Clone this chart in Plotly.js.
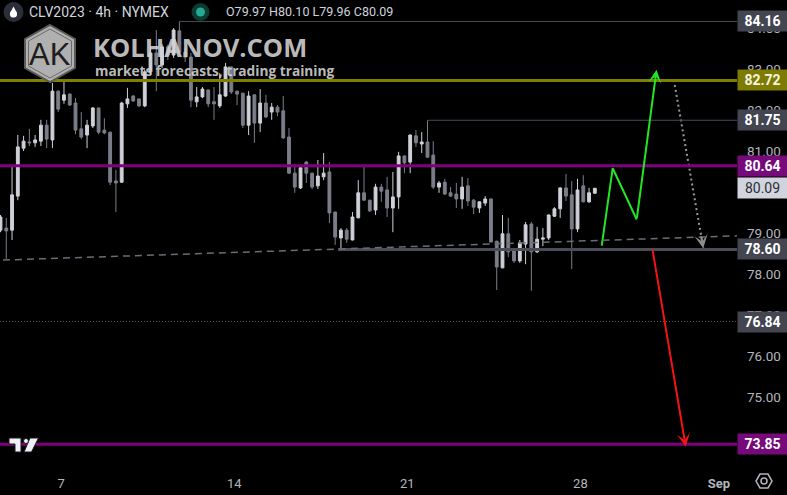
<!DOCTYPE html>
<html><head><meta charset="utf-8">
<script src="https://cdn.plot.ly/plotly-3.0.1.min.js"></script>
<style>html,body{margin:0;padding:0;background:#000;}#chart{width:787px;height:495px;}</style>
</head><body><div id="chart"></div>
<script>
// ---- DATA (CLV2023, 4h bars) ----
const openP  = [79.07,79.12,79.07,79.90,81.07,81.22,81.20,81.24,81.63,81.27,
                82.46,82.24,82.39,82.17,81.54,81.39,81.61,82.05,81.51,81.46,
                80.27,80.24,82.15,82.34,82.27,82.10,82.93,83.39,83.10,83.54,
                83.34,83.93,83.41,83.29,82.20,82.32,82.49,82.20,82.10,82.34,
                83.05,82.46,82.41,81.63,82.37,81.68,82.17,81.95,82.07,81.98,
                81.34,80.46,80.10,80.73,80.46,80.15,80.37,80.49,79.51,78.88,
                79.07,78.83,79.37,79.98,79.80,79.56,80.12,80.05,79.61,79.88,
                80.88,80.73,81.37,81.17,81.22,80.90,80.12,80.24,79.98,79.95,
                79.83,80.15,79.80,79.61,79.73,79.83,78.80,78.15,78.98,78.56,
                78.32,78.73,79.22,78.54,78.85,78.88,79.41,79.59,80.10,79.93,
                79.10,80.15,79.76,79.97];
const highP  = [79.44,79.37,80.66,81.39,81.37,81.54,81.39,81.76,81.76,82.66,
                82.48,82.73,82.40,82.29,81.95,81.76,82.07,82.06,81.80,81.47,
                80.54,82.20,82.54,82.37,82.28,82.98,83.54,83.95,83.61,83.59,
                84.00,84.16,83.51,83.39,82.56,82.56,82.50,82.56,82.90,83.15,
                83.06,82.47,82.42,82.46,82.38,82.51,82.37,82.17,82.12,82.34,
                81.56,80.68,80.66,80.76,80.47,80.78,80.95,80.73,79.52,79.12,
                79.12,79.51,80.29,80.61,79.81,80.20,80.20,80.37,80.49,80.98,
                80.89,81.40,81.51,81.46,81.75,81.24,80.27,80.32,80.12,80.22,
                80.37,80.34,79.83,79.77,79.90,79.84,78.81,79.44,79.37,78.57,
                78.83,79.27,79.27,79.15,79.12,79.45,79.63,80.11,80.44,80.27,
                80.32,80.41,80.10,80.10];
const lowP   = [79.02,78.37,78.83,79.80,81.00,81.12,81.10,81.12,81.07,81.07,
                81.95,82.15,82.10,81.41,81.29,81.07,81.56,81.41,81.41,80.17,
                79.51,80.22,82.05,82.20,82.07,82.07,82.85,82.46,83.02,83.22,
                83.27,83.37,83.17,82.07,82.07,82.29,82.07,81.76,82.05,82.32,
                82.39,82.12,81.56,81.39,81.20,81.46,81.80,81.76,81.85,81.29,
                80.44,79.98,80.07,80.22,80.07,80.07,80.29,79.24,78.71,78.60,
                78.76,78.82,79.36,79.79,79.51,79.44,79.76,79.39,79.02,79.59,
                80.46,80.46,81.10,80.95,80.84,80.07,79.98,79.93,79.88,79.61,
                79.59,79.66,79.46,79.49,79.66,78.77,77.61,78.14,78.41,78.27,
                78.27,78.24,77.59,78.51,78.68,78.83,79.39,79.37,79.78,78.12,
                79.02,79.75,79.73,79.96];
const closeP = [79.39,79.05,79.93,81.10,81.24,81.20,81.27,81.63,81.29,82.46,
                82.02,82.37,82.12,81.51,81.34,81.63,82.05,81.46,81.44,80.24,
                80.22,82.17,82.27,82.22,82.10,82.93,83.39,83.10,83.54,83.34,
                83.95,83.41,83.29,82.24,82.32,82.51,82.15,82.15,82.37,83.05,
                82.44,82.39,81.63,82.34,81.68,82.17,81.83,82.07,81.95,81.32,
                80.46,80.12,80.59,80.46,80.12,80.39,80.46,79.49,78.90,79.07,
                78.85,79.39,79.98,79.80,79.54,80.12,80.02,79.61,79.88,80.88,
                80.71,81.39,81.20,81.22,80.85,80.12,80.22,79.95,79.90,79.83,
                80.12,79.78,79.63,79.76,79.83,78.78,78.17,78.98,78.54,78.32,
                78.76,79.20,78.54,78.85,78.88,79.44,79.59,80.10,79.90,79.10,
                80.05,79.76,79.98,80.09];

// x-axis day labels (bar positions) and price ticks
const dayTickPos    = [10.5, 40.5, 70.5, 100.5, 124.5];
const dayTickLabels = ['7', '14', '21', '28', '<b>Sep</b>'];
const priceTicks    = [74, 75, 76, 77, 78, 79, 81, 82, 83, 84];

// horizontal levels: price and bar where the level starts (null = whole width)
const levelPrices = [84.16, 82.72, 81.75, 80.64, 78.60, 76.84, 73.85];
const levelStarts = [31, null, 74, null, 58.5, null, null];
const currentPrice = 80.09;

// dashed support trend line (bar, price)
const trendX = [0.43, 127.64];
const trendY = [78.34, 78.93];
// forecast paths (bar, price)
const greenX = [104.2, 106.1, 110.26, 113.7];
const greenY = [78.69, 80.58, 79.33, 82.98];
const grayX  = [116.7, 121.8];
const grayY  = [82.73, 78.63];
const redX   = [112.96, 118.75];
const redY   = [78.63, 73.79];

// ---- STYLES ----
const levelStyle = [
  {line:'#4a4d58', w:1,   dash:'solid',   box:'#434651', txt:'#ffffff'},
  {line:'#808000', w:3,   dash:'solid',   box:'#7d7b00', txt:'#f4f4e0'},
  {line:'#4a4d58', w:1,   dash:'solid',   box:'#434651', txt:'#ffffff'},
  {line:'#800080', w:3,   dash:'solid',   box:'#760a7a', txt:'#ffffff'},
  {line:'#4a4d58', w:3,   dash:'solid',   box:'#434651', txt:'#ffffff'},
  {line:'#5d606b', w:1,   dash:'1px,2px', box:'#434651', txt:'#ffffff'},
  {line:'#800080', w:3,   dash:'solid',   box:'#760a7a', txt:'#ffffff'}
];
const FONT = 'Roboto, "Liberation Sans", Arial, sans-serif';
const PW = 737, PH = 466;              // plot area in pixels (for decorations only)
const px = X => X / PW, py = Y => 1 - Y / PH;

const xIdx = openP.map((_, i) => i);
const n = xIdx.length;

const traces = [
  {
    type: 'candlestick', x: xIdx, open: openP, high: highP, low: lowP, close: closeP,
    increasing: {line: {color: '#cfd1d8', width: 1}, fillcolor: '#cfd1d8'},
    decreasing: {line: {color: '#7b7e89', width: 1}, fillcolor: '#7b7e89'},
    whiskerwidth: 0, hoverinfo: 'skip', showlegend: false
  },
  { type: 'scatter', mode: 'lines', x: greenX.slice(0, 3), y: greenY.slice(0, 3),
    line: {color: '#22e622', width: 2}, hoverinfo: 'skip', showlegend: false },
  { type: 'scatter', mode: 'lines', x: grayX, y: grayY,
    line: {color: '#9a9a9a', width: 2, dash: '2px,3px'}, hoverinfo: 'skip', showlegend: false }
];

const shapes = [];
levelPrices.forEach((p, k) => {
  const st = levelStyle[k];
  if (levelStarts[k] === null) {
    shapes.push({type: 'line', xref: 'paper', yref: 'y', x0: 0, x1: 1, y0: p, y1: p,
      line: {color: st.line, width: st.w, dash: st.dash}});
  } else {
    shapes.push({type: 'line', xref: 'x', yref: 'y', x0: levelStarts[k], x1: 127.64, y0: p, y1: p,
      line: {color: st.line, width: st.w, dash: st.dash}});
  }
});
shapes.push({type: 'line', xref: 'x', yref: 'y', x0: trendX[0], x1: trendX[1], y0: trendY[0], y1: trendY[1],
  line: {color: '#6a6d78', width: 1.5, dash: '7px,5px'}});

// decorative watermark hexagon
const hex = [[50,25],[75,39],[75,68],[50,82],[25,68],[25,39]];
shapes.push({type: 'path', xref: 'paper', yref: 'paper',
  path: 'M' + hex.map(v => px(v[0]) + ',' + py(v[1])).join(' L') + ' Z',
  fillcolor: 'rgba(195,195,195,0.9)', line: {color: '#5a5a5a', width: 2}});
const hexIn = [[50,29],[71.5,41],[71.5,66],[50,78],[28.5,66],[28.5,41]];
shapes.push({type: 'path', xref: 'paper', yref: 'paper',
  path: 'M' + hexIn.map(v => px(v[0]) + ',' + py(v[1])).join(' L') + ' Z',
  line: {color: '#6a6a6a', width: 1}});

// TradingView logo (bottom-left)
const tvT = [[9,438],[21,438],[21,452],[15,452],[15,444],[9,444]];
const tvS = [[30,438],[38.5,438],[31.5,452],[24,452]];
[tvT, tvS].forEach(poly => shapes.push({type: 'path', xref: 'paper', yref: 'paper',
  path: 'M' + poly.map(v => px(v[0]) + ',' + py(v[1])).join(' L') + ' Z',
  fillcolor: '#eef0f5', line: {color: '#1a1a1a', width: 1}}));
shapes.push({type: 'circle', xref: 'paper', yref: 'paper',
  x0: px(23.5), x1: px(28.5), y0: py(443.5), y1: py(438.5), fillcolor: '#eef0f5', line: {color: '#1a1a1a', width: 1}});

// header icons
function circ(cx, cy, r, fill, lc, lw) {
  return {type: 'circle', xref: 'paper', yref: 'paper', x0: px(cx - r), x1: px(cx + r),
    y0: py(cy + r), y1: py(cy - r), fillcolor: fill, line: {color: lc || fill, width: lw || 0}};
}
shapes.push(circ(13.5, 12, 10, '#2a2e39'));
shapes.push(circ(13.5, 14, 3.6, '#ffffff'));
shapes.push({type: 'path', xref: 'paper', yref: 'paper',
  path: 'M' + px(13.5) + ',' + py(6.5) + ' L' + px(16.9) + ',' + py(13) + ' L' + px(10.1) + ',' + py(13) + ' Z',
  fillcolor: '#ffffff', line: {width: 0}});
shapes.push(circ(200.5, 12, 9, '#0d3a31'));
shapes.push(circ(200.5, 12, 4.5, '#22ab94'));

// settings icon (bottom-right)
const sx = 764, sy = 481, sr = 8;
const sHex = [0, 60, 120, 180, 240, 300].map(a => [sx + sr * Math.cos(a * Math.PI / 180), sy + sr * Math.sin(a * Math.PI / 180)]);
shapes.push({type: 'path', xref: 'paper', yref: 'paper',
  path: 'M' + sHex.map(v => px(v[0]) + ',' + py(v[1])).join(' L') + ' Z',
  line: {color: '#b2b5be', width: 1.5}});
shapes.push(circ(sx, sy, 3, 'rgba(0,0,0,0)', '#b2b5be', 1.5));

const annotations = [];
// forecast arrowheads
annotations.push({x: greenX[3], y: greenY[3], ax: greenX[2], ay: greenY[2], xref: 'x', yref: 'y',
  axref: 'x', ayref: 'y', text: '', showarrow: true, arrowhead: 3, arrowsize: 1.1, arrowwidth: 2,
  arrowcolor: '#22e622', standoff: 0});
annotations.push({x: redX[1], y: redY[1], ax: redX[0], ay: redY[0], xref: 'x', yref: 'y',
  axref: 'x', ayref: 'y', text: '', showarrow: true, arrowhead: 3, arrowsize: 1.1, arrowwidth: 2,
  arrowcolor: '#f01414', standoff: 0});
annotations.push({x: grayX[1], y: grayY[1],
  ax: grayX[1] - (grayX[1] - grayX[0]) * 0.08, ay: grayY[1] - (grayY[1] - grayY[0]) * 0.08,
  xref: 'x', yref: 'y', axref: 'x', ayref: 'y', text: '', showarrow: true, arrowhead: 3,
  arrowsize: 1.1, arrowwidth: 2, arrowcolor: '#8e8e8e', standoff: 0});

// price labels on the scale
levelPrices.forEach((p, k) => {
  annotations.push({xref: 'paper', x: 1, xanchor: 'left', yref: 'y', y: p, yanchor: 'middle',
    text: '<b>' + p.toFixed(2) + '</b>', showarrow: false, bgcolor: levelStyle[k].box,
    width: 48, height: 19, borderpad: 0.5, align: 'center',
    font: {family: FONT, size: 14, color: levelStyle[k].txt}});
});
annotations.push({xref: 'paper', x: 1, xanchor: 'left', yref: 'y', y: currentPrice, yanchor: 'middle',
  text: currentPrice.toFixed(2), showarrow: false, bgcolor: '#d1d4dc',
  width: 48, height: 19, borderpad: 0.5, align: 'center',
  font: {family: FONT, size: 14, color: '#2a2e39'}});

// header
const L = n - 1;
annotations.push({xref: 'paper', yref: 'paper', x: px(27), y: py(12), xanchor: 'left', yanchor: 'middle',
  text: 'CLV2023 · 4h · NYMEX', showarrow: false, font: {family: FONT, size: 14, color: '#d1d4dc'}});
annotations.push({xref: 'paper', yref: 'paper', x: px(224), y: py(12), xanchor: 'left', yanchor: 'middle',
  text: 'O' + openP[L].toFixed(2) + ' H' + highP[L].toFixed(2) + ' L' + lowP[L].toFixed(2) + ' C' + closeP[L].toFixed(2),
  showarrow: false, font: {family: FONT, size: 12.5, color: '#d1d4dc'}});

// watermark
annotations.push({xref: 'paper', yref: 'paper', x: px(50.5), y: py(54), xanchor: 'center', yanchor: 'middle',
  text: 'AK', showarrow: false, font: {family: '"Liberation Sans", Arial, sans-serif', size: 31, color: '#1e1e1e'}});
annotations.push({xref: 'paper', yref: 'paper', x: px(91), y: py(47), xanchor: 'left', yanchor: 'middle',
  text: '<b>KOLHANOV.COM</b>', showarrow: false,
  font: {family: '"Open Sans", "DejaVu Sans", sans-serif', size: 25.5, color: 'rgba(212,212,212,0.9)'}});
annotations.push({xref: 'paper', yref: 'paper', x: px(93), y: py(70.5), xanchor: 'left', yanchor: 'middle',
  text: '<b>markets forecasts, trading training</b>', showarrow: false,
  font: {family: '"Open Sans", "DejaVu Sans", sans-serif', size: 13.7, color: 'rgba(212,212,212,0.9)'}});

const layout = {
  width: 787, height: 495,
  paper_bgcolor: '#000000', plot_bgcolor: '#000000',
  margin: {l: 0, r: 50, t: 0, b: 29, pad: 0},
  showlegend: false,
  xaxis: {range: [-0.087, 127.64], showgrid: false, zeroline: false, showline: false,
    tickmode: 'array', tickvals: dayTickPos, ticktext: dayTickLabels, ticks: '',
    ticklabelstandoff: 8, tickfont: {family: FONT, size: 13, color: '#b2b5be'},
    rangeslider: {visible: false}, fixedrange: true},
  yaxis: {range: [73.317, 84.683], side: 'right', showgrid: false, zeroline: false, showline: false,
    tickmode: 'array', tickvals: priceTicks, ticktext: priceTicks.map(v => v.toFixed(2)), ticks: '',
    ticklabelstandoff: 9, tickfont: {family: FONT, size: 13.5, color: '#b2b5be'}, fixedrange: true},
  shapes: shapes,
  annotations: annotations
};

Plotly.newPlot('chart', traces, layout, {staticPlot: true, displayModeBar: false});
</script>
</body></html>
